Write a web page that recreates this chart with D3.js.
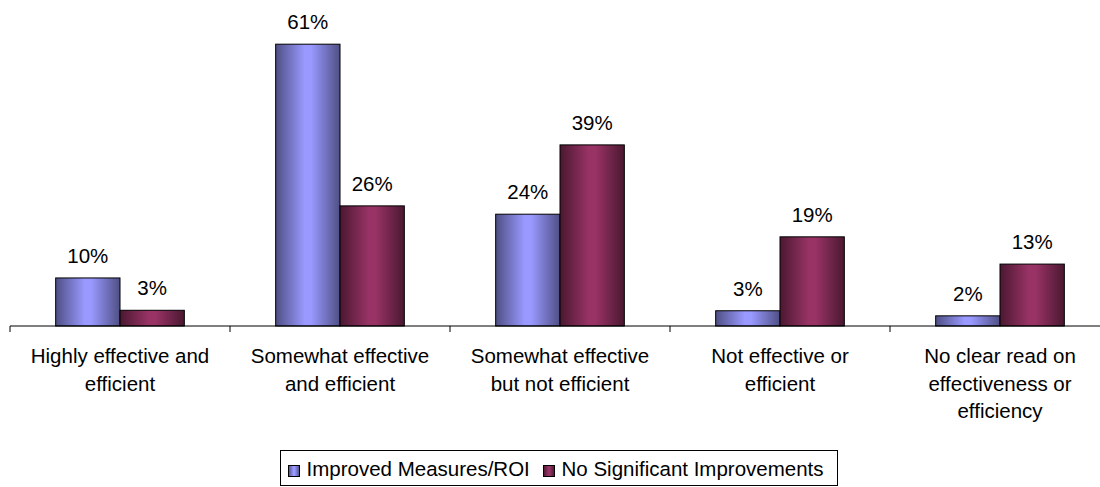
<!DOCTYPE html>
<html><head><meta charset="utf-8">
<script src="https://cdn.jsdelivr.net/npm/d3@7"></script>
<style>body{margin:0;background:#fff}svg{display:block}text{font-family:"Liberation Sans",Arial,sans-serif;fill:#000}</style>
</head><body>
<svg id="c" width="1100" height="487"></svg>
<script>
const categories = [
  ["Highly effective and", "efficient"],
  ["Somewhat effective", "and efficient"],
  ["Somewhat effective", "but not efficient"],
  ["Not effective or", "efficient"],
  ["No clear read on", "effectiveness or", "efficiency"]
];
const seriesNames = ["Improved Measures/ROI", "No Significant Improvements"];
const improved = [10.4, 61, 24.2, 3.3, 2.2];
const noImprovement = [3.4, 26, 39.2, 19.3, 13.4];
const seriesColors = [["#9999FF", "#4f4f85"], ["#993366", "#4a1830"]];

const svg = d3.select("#c");
const x = d3.scaleBand().domain(d3.range(categories.length)).range([10, 1110]).paddingInner(0).paddingOuter(0);
const y = d3.scaleLinear().domain([0, 70]).range([326, 2.6]);
const xs = d3.scaleBand().domain([0, 1]).range([0, x.bandwidth()]).paddingInner(0).paddingOuter(0.71);

const defs = svg.append("defs");
seriesColors.forEach((c, i) => {
  const g = defs.append("linearGradient").attr("id", "g" + i).attr("x1", "0").attr("x2", "1").attr("y1", "0").attr("y2", "0");
  g.append("stop").attr("offset", "0").attr("stop-color", c[1]);
  g.append("stop").attr("offset", "0.45").attr("stop-color", c[0]);
  g.append("stop").attr("offset", "0.55").attr("stop-color", c[0]);
  g.append("stop").attr("offset", "1").attr("stop-color", c[1]);
});

const FS = 20.5;
const series = [improved, noImprovement];
series.forEach((vals, si) => {
  const g = svg.append("g");
  g.selectAll("rect").data(vals).join("rect")
    .attr("x", (d, i) => x(i) + xs(si))
    .attr("y", d => y(d))
    .attr("width", xs.bandwidth())
    .attr("height", d => y(0) - y(d))
    .attr("fill", `url(#g${si})`)
    .attr("stroke", "#000").attr("stroke-width", 1);
  g.selectAll("text").data(vals).join("text")
    .attr("x", (d, i) => x(i) + xs(si) + xs.bandwidth() / 2)
    .attr("y", d => y(d) - 15)
    .attr("text-anchor", "middle").attr("font-size", FS)
    .text(d => Math.round(d) + "%");
});

// axis
const ax = svg.append("g").attr("transform", "translate(0,326)");
ax.append("line").attr("x1", 10).attr("x2", 1110).attr("stroke", "#000");
const tickPos = d3.range(categories.length + 1).map(i => i < categories.length ? x(i) : x(i - 1) + x.bandwidth());
ax.selectAll(".t").data(tickPos).join("line").attr("class", "t")
  .attr("x1", d => d).attr("x2", d => d).attr("y1", 0).attr("y2", 6).attr("stroke", "#000");

const lab = svg.append("g");
categories.forEach((lines, i) => {
  const t = lab.append("text").attr("text-anchor", "middle").attr("font-size", FS);
  lines.forEach((l, j) => t.append("tspan").attr("x", x(i) + x.bandwidth() / 2).attr("y", 363 + j * 27.5).text(l));
});

// legend
const lg = svg.append("g");
lg.append("rect").attr("x", 280.5).attr("y", 450.5).attr("width", 557).attr("height", 35).attr("fill", "#fff").attr("stroke", "#000");
const lx = [288.5, 543.5];
seriesNames.forEach((n, i) => {
  lg.append("rect").attr("x", lx[i]).attr("y", 465.5).attr("width", 11).attr("height", 11)
    .attr("fill", `url(#g${i})`).attr("stroke", "#000");
  lg.append("text").attr("x", lx[i] + 18).attr("y", 476).attr("font-size", FS).text(n);
});
</script>
</body></html>
